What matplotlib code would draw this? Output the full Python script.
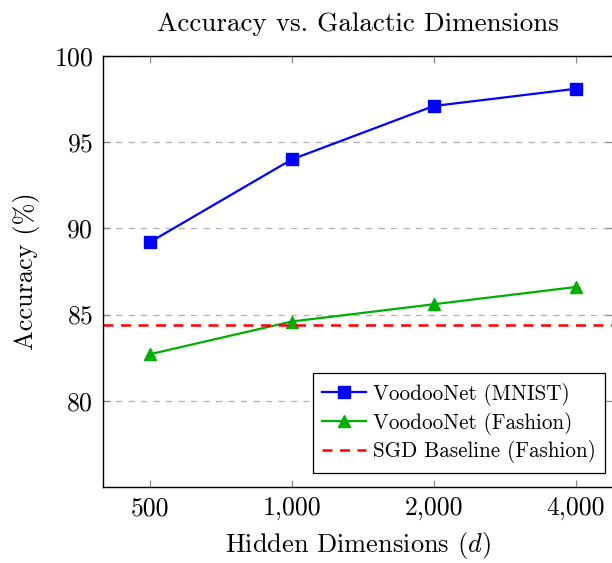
import numpy as np
import matplotlib
matplotlib.use("Agg")
import matplotlib.pyplot as plt

# chart data
dims = [500, 1000, 2000, 4000]
dim_labels = ["500", "1,000", "2,000", "4,000"]
mnist_acc = [89.2, 94.0, 97.1, 98.1]
fashion_acc = [82.7, 84.6, 85.6, 86.6]
sgd_baseline = 84.4

plt.rcParams['font.family'] = ['cmr10', 'DejaVu Serif']
plt.rcParams['mathtext.fontset'] = 'cm'
plt.rcParams['axes.formatter.use_mathtext'] = True

fig = plt.figure(figsize=(6.12, 5.63), dpi=100)
ax = fig.add_axes([0.168, 0.135, 0.833, 0.7655])

x = np.arange(len(dims))

ax.plot(x, mnist_acc, color='#0000ff', marker='s', markersize=9, linewidth=1.6,
        label='VoodooNet (MNIST)')
ax.plot(x, fashion_acc, color='#00b000', marker='^', markersize=9, linewidth=1.6,
        label='VoodooNet (Fashion)')
ax.axhline(sgd_baseline, color='#ff0000', linestyle=(0, (4, 3)), linewidth=1.8,
           label='SGD Baseline (Fashion)')

ax.set_xlim(-0.331, 3.26)
ax.set_ylim(75, 100)
ax.set_xticks(x)
ax.set_xticklabels(dim_labels)
ax.set_yticks([80, 85, 90, 95, 100])

ax.yaxis.grid(True, color='#b0b0b0', linestyle=(0, (5, 5)), linewidth=0.9)
ax.set_axisbelow(True)

ax.tick_params(axis='both', direction='in', length=5, width=0.9, color='#888888',
               labelsize=18.5, top=True, right=True, pad=7)
for sp in ax.spines.values():
    sp.set_linewidth(1.0)
    sp.set_color('black')

ax.set_title('Accuracy vs. Galactic Dimensions', fontsize=19.5, pad=18)
ax.set_xlabel('Hidden Dimensions ($d$)', fontsize=19, labelpad=7)
ax.set_ylabel('Accuracy (%)', fontsize=19, labelpad=10)

leg = ax.legend(loc='lower right', bbox_to_anchor=(0.986, 0.0325), fontsize=15.2,
                frameon=True, fancybox=False, edgecolor='black', framealpha=1,
                handlelength=2.08, handletextpad=0.33, borderpad=0.45,
                labelspacing=0.28, borderaxespad=0)
leg.get_frame().set_linewidth(0.9)

fig.savefig('out.png', dpi=100)
